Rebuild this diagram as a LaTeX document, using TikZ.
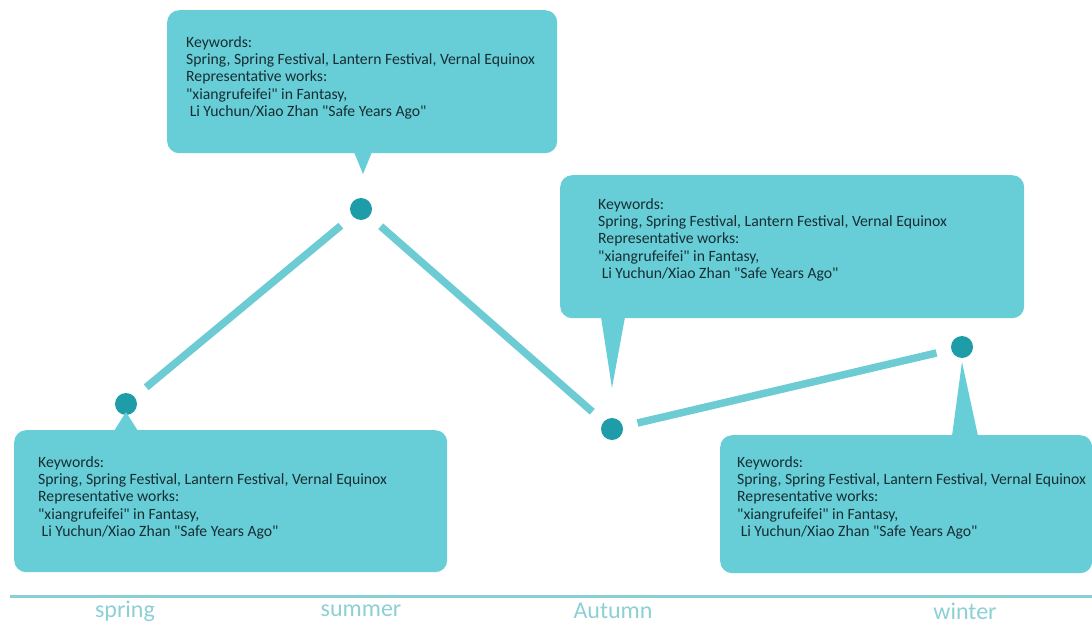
\documentclass[tikz,border=0pt]{standalone}
\usepackage{fontspec}
\setmainfont{Carlito}[Ligatures=TeXOff]
\definecolor{boxc}{HTML}{67CDD6}
\definecolor{linec}{HTML}{6DCBD4}
\definecolor{dotc}{HTML}{1E9DA8}
\definecolor{txtc}{HTML}{162E33}
\definecolor{axisc}{HTML}{86D0D6}
\definecolor{labc}{HTML}{8CD0D6}
\begin{document}
\begin{tikzpicture}[x=1pt,y=-1pt,
  callout/.style={fill=boxc,rounded corners=12pt,anchor=north west,inner sep=0pt},
  info/.style={anchor=north west,inner sep=0pt,align=left,text=txtc,font=\fontsize{15.7}{17.3}\selectfont},
  dot/.style={circle,fill=dotc,minimum size=22pt,inner sep=0pt},
  conn/.style={linec,line width=7.5pt,shorten <=15pt,shorten >=15pt},
  season/.style={text=labc,font=\fontsize{24}{26}\selectfont}]
\useasboundingbox (0,0) rectangle (1092,626);
% boxes
\node[callout,minimum width=390pt,minimum height=143pt] (bsum) at (167,10) {};
\node[callout,minimum width=464pt,minimum height=143pt] (baut) at (560,175) {};
\node[callout,minimum width=433pt,minimum height=142pt] (bspr) at (14,430) {};
\node[callout,minimum width=372pt,minimum height=138pt] (bwin) at (720,435) {};
% dots
\node[dot] (dspr) at (126,404) {};
\node[dot] (dsum) at (361,209) {};
\node[dot] (daut) at (612,429) {};
\node[dot] (dwin) at (962,347) {};
% pointers
\coordinate (tsum) at (363,174);
\coordinate (taut) at (612,388);
\coordinate (tspr) at (126,412);
\coordinate (twin) at (962,362);
\fill[boxc] (354,152) -- (tsum) -- (372,152) -- cycle;
\fill[boxc] (601,317) -- (taut) -- (625,317) -- cycle;
\fill[boxc] (114,431) -- (tspr) -- (138,431) -- cycle;
\fill[boxc] (952,436) -- (twin) -- (978,436) -- cycle;
% connectors
\draw[conn] (dspr) -- (dsum);
\draw[conn] (dsum) -- (daut);
\draw[conn] (daut) -- (dwin);
% texts
\newcommand{\infotext}{Keywords:\\Spring, Spring Festival, Lantern Festival, Vernal Equinox\\Representative works:\\"xiangrufeifei" in Fantasy,\\\ Li Yuchun/Xiao Zhan "Safe Years Ago"}
\node[info] (isum) at (186,36) {\infotext};
\node[info] (iaut) at (598,198) {\infotext};
\node[info] (ispr) at (38,456) {\infotext};
\node[info] (iwin) at (737,456) {\infotext};
% axis
\draw[axisc,line width=3pt] (10,596) coordinate (ax1) -- (1092,596) coordinate (ax2);
\node[season] (lspr) at (125,611) {spring};
\node[season] (lsum) at (361,611) {summer};
\node[season] (laut) at (613,611) {Autumn};
\node[season] (lwin) at (965,611) {winter};
\end{tikzpicture}
\end{document}
